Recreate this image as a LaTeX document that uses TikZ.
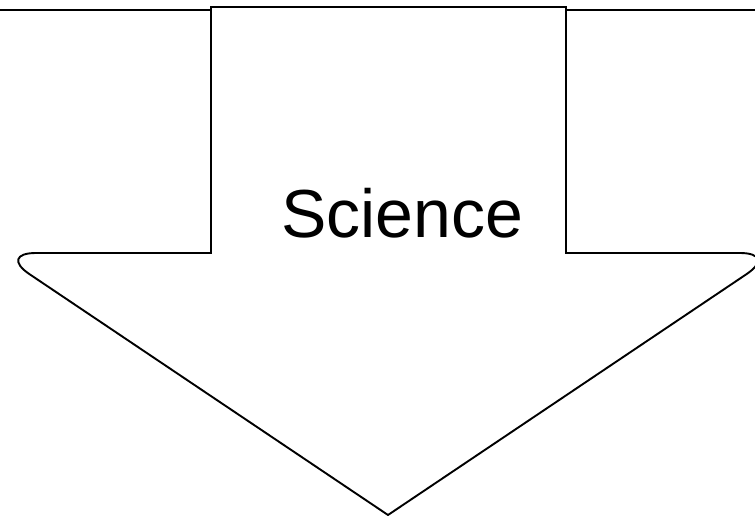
\documentclass[tikz,border=0pt]{standalone}
\usepackage{fontspec}
\setmainfont{Liberation Sans}
\begin{document}
\begin{tikzpicture}[x=1pt, y=-1pt, line width=1.9pt, line join=miter]
        \useasboundingbox (0,0) rectangle (755,516);

        % Top edges
        \draw (0,10) -- (211,10);
        \draw (566,10) -- (755,10);

        % Arrow
        \draw (388,515) [rounded corners=38pt] -- (-2,253) [sharp corners] -- (211,253) -- (211,7)
            -- (566,7) -- (566,253) [rounded corners=38pt] -- (778,253) [sharp corners] -- cycle;

        % Label
        \node (science) at (402,213) {\fontsize{68}{68}\selectfont Science};
    \end{tikzpicture}
\end{document}
